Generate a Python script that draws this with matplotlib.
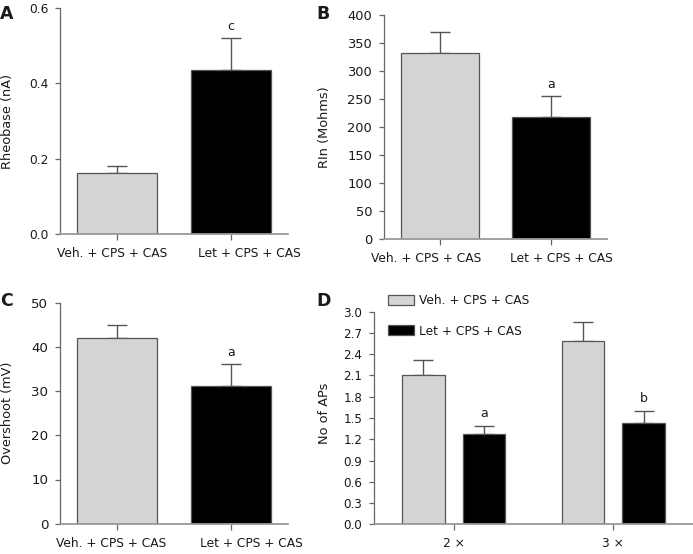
import matplotlib
matplotlib.use("Agg")
import matplotlib.pyplot as plt
import matplotlib.transforms as mtransforms
import numpy as np

plt.rcParams['font.family'] = ['DejaVu Sans']

groups = ["Veh. + CPS + CAS", "Let + CPS + CAS"]
rheobase_mean = [0.161, 0.436]
rheobase_err = [0.019, 0.084]
rin_mean = [332, 217]
rin_err = [38, 38]
overshoot_mean = [42.1, 31.2]
overshoot_err = [2.8, 4.9]
ap_stim = ["2 ×", "3 ×"]
ap_veh_mean = [2.11, 2.59]
ap_veh_err = [0.21, 0.26]
ap_let_mean = [1.28, 1.43]
ap_let_err = [0.11, 0.17]

W, H = 693, 554
fig = plt.figure(figsize=(W/100, H/100), dpi=100)

GREY = "#d4d4d4"
EDGE = "#555555"
SPINE = "#666666"
TXT = "#1a1a1a"

def add_ax(x0, x1, ytop, ybot):
    return fig.add_axes([x0/W, (H-ybot)/H, (x1-x0)/W, (ybot-ytop)/H])

def style(ax, ysize):
    for s in ['top', 'right']:
        ax.spines[s].set_visible(False)
    ax.spines['left'].set_color(SPINE)
    ax.spines['left'].set_linewidth(0.9)
    ax.spines['bottom'].set_color("#999999")
    ax.spines['bottom'].set_linewidth(1.3)
    ax.tick_params(axis='y', colors=SPINE, labelcolor=TXT, length=3.5, width=0.9,
                   labelsize=ysize, pad=5)
    ax.tick_params(axis='x', colors=SPINE, labelcolor=TXT, length=4.5, width=0.9,
                   labelsize=8.8, pad=5)

def shift_labels(ax, shifts_px):
    for lab, dx in zip(ax.get_xticklabels(), shifts_px):
        lab.set_transform(lab.get_transform() +
                          mtransforms.ScaledTranslation(dx/100, 0, fig.dpi_scale_trans))

def sig_letter(ax, x, top, s):
    ax.annotate(s, (x, top), xytext=(0, 4), textcoords='offset points',
                ha='center', va='bottom', fontsize=9, color=TXT)

def two_bar(ax, means, errs, ylim, yticks, ylabel, sig, fmt, ysize, shifts, ylab_x):
    x = np.arange(len(groups))
    ax.bar(x, means, width=0.7, color=[GREY, "black"], edgecolor=EDGE, linewidth=0.9, zorder=2)
    ax.errorbar(x, means, yerr=[np.zeros(2), errs], fmt='none', ecolor=EDGE,
                elinewidth=1.0, capsize=7, capthick=1.0, zorder=1)
    ax.set_xlim(-0.5, 1.5)
    ax.set_ylim(*ylim)
    ax.set_yticks(yticks)
    ax.set_yticklabels([fmt.format(v) for v in yticks])
    ax.set_xticks(x)
    ax.set_xticklabels(groups)
    ax.set_ylabel(ylabel, fontsize=9.3, color=TXT)
    ax.yaxis.set_label_coords(ylab_x, 0.5)
    style(ax, ysize)
    shift_labels(ax, shifts)
    sig_letter(ax, 1, means[1] + errs[1], sig)

axA = add_ax(60, 288, 8, 234)
two_bar(axA, rheobase_mean, rheobase_err, (0, 0.6), [0, 0.2, 0.4, 0.6],
        "Rheobase (nA)", "c", "{:.1f}", 8.8, [-5, 18], -0.20)
axB = add_ax(384, 607, 15, 239)
two_bar(axB, rin_mean, rin_err, (0, 400), list(range(0, 401, 50)),
        "RIn (Mohms)", "a", "{:d}", 9.4, [-14, 10], -0.238)
axC = add_ax(60, 288, 302.7, 523.7)
two_bar(axC, overshoot_mean, overshoot_err, (0, 50), list(range(0, 51, 10)),
        "Overshoot (mV)", "a", "{:d}", 9.6, [-6, 20], -0.20)

axD = add_ax(374, 693, 311.7, 524.3)
x = np.arange(len(ap_stim))
off = 0.19
bw = 0.265
axD.bar(x - off, ap_veh_mean, width=bw, color=GREY, edgecolor=EDGE, linewidth=0.9, zorder=2, label=groups[0])
axD.bar(x + off, ap_let_mean, width=bw, color="black", edgecolor=EDGE, linewidth=0.9, zorder=2, label=groups[1])
axD.errorbar(x - off, ap_veh_mean, yerr=[np.zeros(2), ap_veh_err], fmt='none', ecolor=EDGE,
             elinewidth=1.0, capsize=7, capthick=1.0, zorder=1)
axD.errorbar(x + off, ap_let_mean, yerr=[np.zeros(2), ap_let_err], fmt='none', ecolor=EDGE,
             elinewidth=1.0, capsize=7, capthick=1.0, zorder=1)
axD.set_xlim(-0.5, 1.5)
axD.set_ylim(0, 3.0)
dt = [round(v, 1) for v in np.arange(0, 3.01, 0.3)]
axD.set_yticks(dt)
axD.set_yticklabels(["{:.1f}".format(v) for v in dt])
axD.set_xticks(x)
axD.set_xticklabels(ap_stim)
axD.set_ylabel("No of APs", fontsize=9.3, color=TXT)
axD.yaxis.set_label_coords(-0.135, 0.52)
style(axD, 8.6)
for xi, m, e, s in zip(x + off, ap_let_mean, ap_let_err, ["a", "b"]):
    sig_letter(axD, xi, m + e, s)
leg = axD.legend(loc='upper left', bbox_to_anchor=(388/W, 1 - 294.5/H),
                 bbox_transform=fig.transFigure,
                 frameon=False, fontsize=8.8, handlelength=2.1, handleheight=0.9,
                 handletextpad=0.45, labelspacing=1.4, borderaxespad=0, borderpad=0)
for t in leg.get_texts():
    t.set_color(TXT)

for lab, (px, py) in zip("ABCD", [(0, 5), (316, 5), (0, 292), (316, 292)]):
    fig.text(px/W, 1 - py/H, lab, fontsize=12.5, fontweight='bold', va='top', ha='left', color=TXT)

fig.savefig("out.png", dpi=100)
